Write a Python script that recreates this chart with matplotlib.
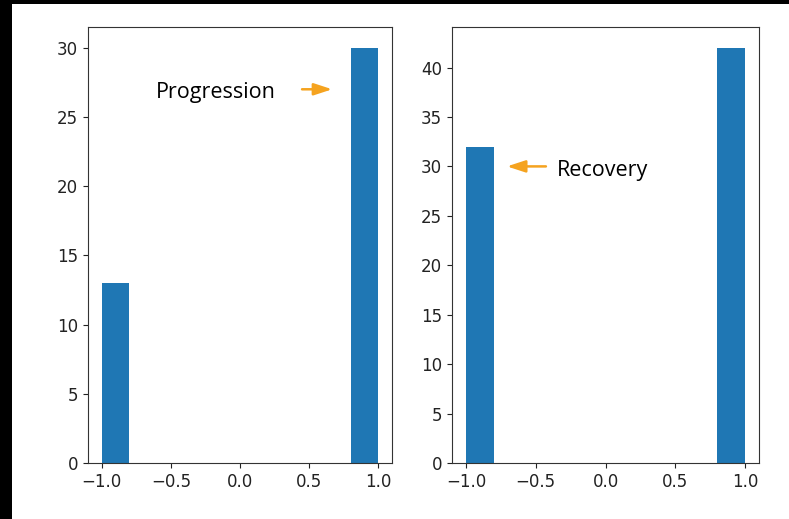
import matplotlib
matplotlib.use("Agg")
import matplotlib.pyplot as plt
from matplotlib.patches import Rectangle

# outcome labels and how many samples fall on each
outcomes = [-1, 1]
progression_counts = [13, 30]
recovery_counts = [32, 42]

W, H = 789, 519
fig = plt.figure(figsize=(W / 100, H / 100), dpi=100, facecolor="black")
# white canvas, leaving a thin dark strip on the top and left edges
fig.add_artist(Rectangle((12 / W, -0.1), 1.2, 1.1 - 4 / H, lw=0,
                         transform=fig.transFigure, color="white", zorder=-10))

tick_font = 12
note_font = dict(family=["Open Sans", "DejaVu Sans"], size=15.5, color="black")
orange = "#F5A31F"
arrow = dict(arrowstyle="-|>,head_length=0.55,head_width=0.18", color=orange,
             lw=1.8, mutation_scale=20, shrinkA=0, shrinkB=0)

ax1 = fig.add_axes([88 / W, 56 / H, (392 - 88) / W, (463 - 27) / H])
ax2 = fig.add_axes([452 / W, 56 / H, (759 - 452) / W, (463 - 27) / H])

ax1.hist(outcomes, bins=10, weights=progression_counts, color="#1f77b4")
ax2.hist(outcomes, bins=10, weights=recovery_counts, color="#1f77b4")

for ax in (ax1, ax2):
    ax.tick_params(labelsize=tick_font, colors="#222222")
    ax.set_xticks([-1.0, -0.5, 0.0, 0.5, 1.0])
    for s in ax.spines.values():
        s.set_color("#333333")

ax1.set_yticks([0, 5, 10, 15, 20, 25, 30])
ax2.set_yticks([0, 5, 10, 15, 20, 25, 30, 35, 40])

ax1.annotate("", xy=(0.667, 27), xytext=(0.449, 27), arrowprops=arrow)
ax1.text(0.26, 26.4, "Progression", ha="right", va="baseline", **note_font)

ax2.annotate("", xy=(-0.706, 30), xytext=(-0.427, 30), arrowprops=arrow)
ax2.text(-0.348, 29.0, "Recovery", ha="left", va="baseline", **note_font)

fig.savefig("out.png", dpi=100, facecolor=fig.get_facecolor())
